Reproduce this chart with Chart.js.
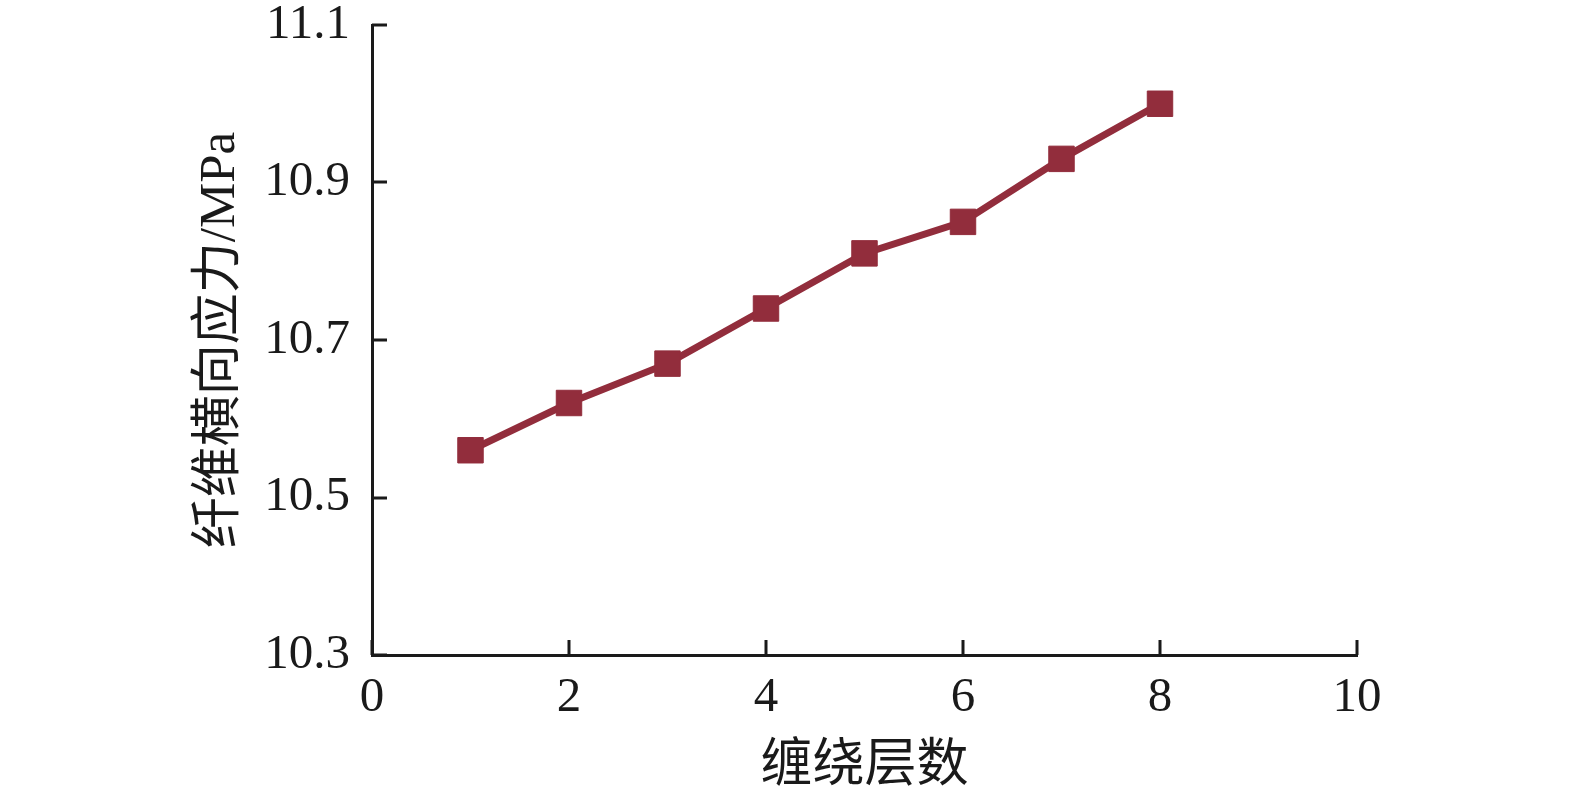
<!DOCTYPE html>
<html>
<head>
<meta charset="utf-8">
<script src="https://cdn.jsdelivr.net/npm/chart.js@4/dist/chart.umd.min.js"></script>
<style>
  html, body { margin: 0; padding: 0; background: #fff; }
  #wrap { width: 1575px; height: 796px; }
</style>
</head>
<body>
<div id="wrap"><canvas id="stressChart" width="1575" height="796"></canvas></div>
<script>
// wrap layers vs transverse fibre stress
const layers = [1, 2, 3, 4, 5, 6, 7, 8];
const stress = [10.56, 10.62, 10.67, 10.74, 10.81, 10.85, 10.93, 11.00];
const xTicks = [0, 2, 4, 6, 8, 10];
const yTicks = [10.3, 10.5, 10.7, 10.9, 11.1];

const lineColor = '#922D3C';
const axisFont = { family: '"Liberation Serif", "Noto Sans CJK SC", serif', size: 49 };

// inward tick marks, drawn at the scale's own tick positions
const innerTicks = {
  id: 'innerTicks',
  afterDraw(chart) {
    const ctx = chart.ctx;
    const xs = chart.scales.x, ys = chart.scales.y;
    const len = 15;
    ctx.save();
    ctx.strokeStyle = '#1a1a1a';
    ctx.lineWidth = 3;
    ctx.beginPath();
    xs.ticks.forEach(t => {
      const px = Math.round(xs.getPixelForValue(t.value));
      ctx.moveTo(px, ys.bottom);
      ctx.lineTo(px, ys.bottom - len);
    });
    ys.ticks.forEach(t => {
      const py = Math.round(ys.getPixelForValue(t.value));
      ctx.moveTo(xs.left, py);
      ctx.lineTo(xs.left + len, py);
    });
    ctx.stroke();
    ctx.restore();
  }
};

const ctx = document.getElementById('stressChart').getContext('2d');
new Chart(ctx, {
  type: 'line',
  data: {
    datasets: [{
      data: layers.map((l, i) => ({ x: l, y: stress[i] })),
      borderColor: lineColor,
      backgroundColor: lineColor,
      borderWidth: 7,
      pointStyle: 'rect',
      pointRadius: 18,
      pointBorderWidth: 1,
      tension: 0,
      fill: false
    }]
  },
  options: {
    responsive: false,
    animation: false,
    layout: { padding: { top: 25, right: 218, left: 190, bottom: 0 } },
    plugins: { legend: { display: false }, tooltip: { enabled: false } },
    scales: {
      x: {
        type: 'linear',
        min: 0, max: 10,
        afterBuildTicks: s => { s.ticks = xTicks.map(v => ({ value: v })); },
        afterFit: s => { s.height = 141; s.paddingLeft = 0; s.paddingRight = 0; },
        grid: { display: false, drawTicks: false },
        border: { display: true, color: '#1a1a1a', width: 3 },
        ticks: { color: '#1a1a1a', font: axisFont, padding: 14, maxRotation: 0 },
        title: { display: true, text: '缠绕层数', color: '#1a1a1a',
                 font: { family: '"Noto Sans CJK SC", sans-serif', size: 52 },
                 padding: { top: 0, bottom: 4 } }
      },
      y: {
        min: 10.3, max: 11.1,
        afterBuildTicks: s => { s.ticks = yTicks.map(v => ({ value: v })); },
        afterFit: s => { s.width = 182; s.paddingTop = 0; s.paddingBottom = 0; },
        grid: { display: false, drawTicks: false },
        border: { display: true, color: '#1a1a1a', width: 3 },
        ticks: { color: '#1a1a1a', font: axisFont, padding: 22,
                 callback: v => v.toFixed(1) },
        title: { display: true, text: '纤维横向应力/MPa', color: '#1a1a1a',
                 font: { family: '"Liberation Serif", "Noto Sans CJK SC", serif', size: 51 },
                 padding: 0 }
      }
    }
  },
  plugins: [innerTicks]
});
</script>
</body>
</html>
